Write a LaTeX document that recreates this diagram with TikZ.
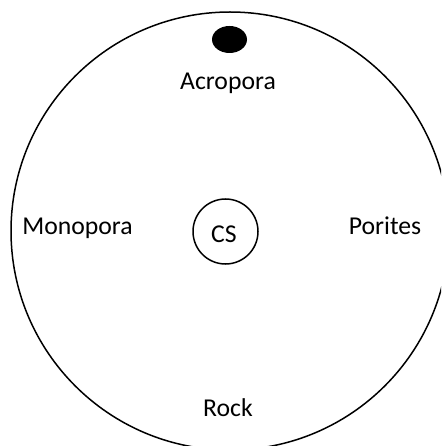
\documentclass[tikz,border=0pt]{standalone}
\usepackage{fontspec}
\setmainfont{Carlito}
\usetikzlibrary{shapes.geometric}

\begin{document}
\begin{tikzpicture}[x=1pt,y=-1pt,
  lbl/.style={anchor=base,inner sep=0pt,font=\fontsize{25.7}{30}\selectfont},
  ring/.style={circle,draw,line width=1.5pt,inner sep=0pt}
]
  \clip (0,0) rectangle (441,446);
  \node[ring,minimum size=438pt] (site) at (230,231) {};
  \node[ellipse,fill=black,minimum width=35pt,minimum height=27pt,inner sep=0pt] (dot) at (229.5,39.5) {};
  \node[ring,minimum size=65pt] (cs) at (225.5,231.5) {};
  \node[lbl] (cslbl) at (224,242) {CS};
  \node[lbl] (acro) at (228,90) {Acropora};
  \node[lbl] (mono) at (77.5,234) {Monopora};
  \node[lbl] (pori) at (385,234) {Porites};
  \node[lbl] (rock) at (228,416) {Rock};
\end{tikzpicture}
\end{document}
